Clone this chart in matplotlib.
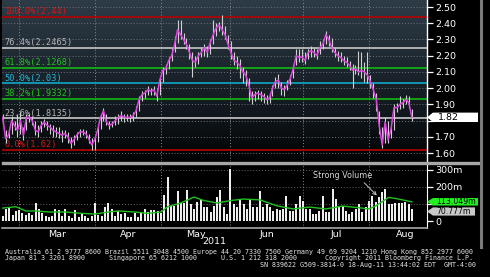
import matplotlib
matplotlib.use('Agg')

from matplotlib import pyplot as plt
from matplotlib import transforms
from matplotlib.patches import Polygon
from matplotlib.lines import Line2D
import numpy as np

# closes, left to right (22-Feb-11 .. 18-Aug-11)
close = [1.82, 1.69, 1.71, 1.80, 1.77, 1.74, 1.80, 1.71, 1.82, 1.82,
         1.80, 1.74, 1.73, 1.77, 1.79, 1.77, 1.76, 1.74, 1.73, 1.72,
         1.71, 1.72, 1.70, 1.66, 1.68, 1.71, 1.73, 1.73, 1.72, 1.69,
         1.65, 1.68, 1.74, 1.82, 1.86, 1.79, 1.77, 1.78, 1.80, 1.82,
         1.83, 1.82, 1.82, 1.82, 1.83, 1.86, 1.93, 1.96, 1.97, 1.99,
         1.98, 1.99, 1.95, 2.05, 2.11, 2.12, 2.17, 2.20, 2.27, 2.36,
         2.33, 2.30, 2.27, 2.22, 2.17, 2.16, 2.20, 2.22, 2.25, 2.22,
         2.28, 2.33, 2.37, 2.39, 2.36, 2.33, 2.27, 2.22, 2.17, 2.16,
         2.14, 2.10, 2.08, 2.02, 1.94, 1.96, 1.97, 1.96, 1.95, 1.93,
         1.94, 2.00, 2.04, 2.05, 2.00, 1.99, 2.02, 2.06, 2.12, 2.20,
         2.19, 2.19, 2.17, 2.22, 2.23, 2.22, 2.20, 2.25, 2.27, 2.33,
         2.30, 2.25, 2.22, 2.20, 2.19, 2.17, 2.16, 2.14, 2.11, 2.12,
         2.10, 2.11, 2.10, 2.08, 2.04, 1.99, 1.93, 1.77, 1.65, 1.79,
         1.68, 1.75, 1.88, 1.88, 1.90, 1.91, 1.93, 1.91, 1.82]

high = [1.84, 1.74, 1.75, 1.83, 1.80, 1.84, 1.85, 1.76, 1.84, 1.84,
        1.83, 1.80, 1.77, 1.80, 1.81, 1.80, 1.78, 1.77, 1.76, 1.76,
        1.74, 1.74, 1.73, 1.70, 1.71, 1.73, 1.75, 1.75, 1.74, 1.72,
        1.69, 1.70, 1.76, 1.84, 1.88, 1.84, 1.80, 1.80, 1.83, 1.84,
        1.86, 1.84, 1.84, 1.84, 1.85, 1.89, 1.95, 1.98, 1.99, 2.01,
        2.00, 2.01, 2.00, 2.07, 2.13, 2.15, 2.19, 2.25, 2.32, 2.42,
        2.42, 2.34, 2.31, 2.27, 2.22, 2.20, 2.22, 2.25, 2.27, 2.26,
        2.30, 2.42, 2.40, 2.41, 2.45, 2.38, 2.33, 2.29, 2.22, 2.20,
        2.18, 2.13, 2.11, 2.06, 1.98, 1.98, 1.99, 1.98, 1.97, 1.96,
        1.97, 2.02, 2.07, 2.09, 2.04, 2.02, 2.05, 2.08, 2.14, 2.24,
        2.24, 2.24, 2.22, 2.24, 2.26, 2.25, 2.24, 2.29, 2.30, 2.35,
        2.33, 2.31, 2.25, 2.23, 2.22, 2.20, 2.19, 2.17, 2.15, 2.14,
        2.23, 2.22, 2.16, 2.22, 2.08, 2.03, 1.97, 1.86, 1.76, 1.82,
        1.80, 1.78, 1.90, 1.91, 1.95, 1.93, 1.96, 1.95, 1.87]

low = [1.78, 1.66, 1.69, 1.72, 1.74, 1.70, 1.72, 1.68, 1.74, 1.79,
       1.77, 1.71, 1.70, 1.73, 1.76, 1.74, 1.72, 1.70, 1.70, 1.69,
       1.67, 1.69, 1.66, 1.63, 1.65, 1.68, 1.70, 1.71, 1.69, 1.66,
       1.62, 1.62, 1.67, 1.75, 1.80, 1.77, 1.75, 1.76, 1.77, 1.78,
       1.80, 1.79, 1.80, 1.79, 1.80, 1.82, 1.86, 1.92, 1.94, 1.96,
       1.96, 1.96, 1.92, 1.96, 2.04, 2.09, 2.12, 2.17, 2.22, 2.28,
       2.30, 2.27, 2.24, 2.18, 2.07, 2.13, 2.15, 2.19, 2.20, 2.19,
       2.21, 2.27, 2.32, 2.35, 2.33, 2.30, 2.24, 2.18, 2.14, 2.12,
       2.06, 2.03, 2.01, 1.92, 1.90, 1.92, 1.93, 1.92, 1.91, 1.90,
       1.91, 1.95, 2.00, 2.00, 1.96, 1.95, 1.99, 2.02, 2.06, 2.14,
       2.16, 2.16, 2.15, 2.18, 2.19, 2.19, 2.18, 2.21, 2.24, 2.27,
       2.26, 2.22, 2.19, 2.17, 2.16, 2.14, 2.13, 2.11, 2.00, 2.09,
       2.08, 2.06, 2.04, 2.03, 2.00, 1.94, 1.86, 1.72, 1.63, 1.66,
       1.66, 1.69, 1.74, 1.85, 1.87, 1.88, 1.90, 1.88, 1.80]

# daily volume in millions, one per trading day
volume = [31, 70, 76, 35, 59, 65, 47, 35, 47, 35,
          106, 70, 47, 29, 24, 29, 70, 65, 29, 70,
          29, 18, 65, 24, 47, 29, 18, 29, 106, 35,
          29, 82, 106, 70, 29, 59, 41, 47, 24, 24,
          47, 24, 47, 70, 53, 65, 65, 59, 47, 153,
          259, 88, 88, 176, 106, 106, 182, 100, 70, 112,
          129, 82, 82, 53, 88, 141, 182, 82, 41, 306,
          100, 82, 129, 100, 70, 129, 82, 82, 176, 82,
          100, 82, 59, 70, 65, 70, 147, 59, 59, 100,
          147, 118, 70, 70, 41, 41, 59, 147, 53, 53,
          188, 129, 88, 88, 59, 41, 53, 70, 100, 53,
          82, 118, 147, 112, 141, 170, 188, 100, 100, 106,
          106, 106, 112, 100, 70]

# volume moving average (green line), read at a few days
ma_day = [0, 4, 7, 10, 14, 19, 24, 28, 32, 35, 40, 44, 48, 50, 54, 58,
          61, 65, 69, 73, 78, 83, 88, 93, 98, 103, 109, 111, 113, 117, 120, 124]
ma_vol = [76, 84, 59, 59, 53, 53, 45, 41, 53, 59, 53, 45, 53, 84, 106, 141,
          120, 106, 120, 129, 124, 90, 71, 82, 71, 88, 76, 71, 88, 139, 129, 113]

months = ['Mar', 'Apr', 'May', 'Jun', 'Jul', 'Aug']
month_start = [5, 28, 48, 69, 91, 111]
month_end = [28, 48, 69, 91, 111, 133]

fib_pct = ['100.0%', '76.4%', '61.8%', '50.0%', '38.2%', '23.6%', '0.0%']
fib_val = [2.44, 2.2465, 2.1268, 2.03, 1.9332, 1.8135, 1.62]
fib_line = ['#b80000', '#c8c8c8', '#12b812', '#10a8c8', '#12b812', '#c8c8c8', '#b80000']
fib_text = ['#d01818', '#b4b4b4', '#22c022', '#22b8d8', '#22c022', '#b4b4b4', '#d01818']

price_ticks = [1.60, 1.70, 1.80, 1.90, 2.00, 2.10, 2.20, 2.30, 2.40, 2.50]
vol_ticks = [0, 100, 200, 300]
vol_labels = ['0', '', '200m', '300m']   # 100m sits under the MA label box
last_price = 1.82
vol_ma_last = 113.049
vol_last = 70.777

footer = ['Australia 61 2 9777 8600 Brazil 5511 3048 4500 Europe 44 20 7330 7500 '
          'Germany 49 69 9204 1210 Hong Kong 852 2977 6000',
          'Japan 81 3 3201 8900      Singapore 65 6212 1000      U.S. 1 212 318 2000'
          '       Copyright 2011 Bloomberg Finance L.P.',
          'SN 839622 G509-3814-0 18-Aug-11 13:44:02 EDT  GMT-4:00']

W, H = 490.0, 277.0
fig = plt.figure(figsize=(4.9, 2.77), dpi=100, facecolor='black')

def fx(px):
    return px / W

def fy(py):
    return 1 - py / H

ax = fig.add_axes([fx(2), fy(161), fx(425), 161 / H])
axv = fig.add_axes([fx(2), fy(228), fx(425), (228 - 164) / H])

ndays = len(volume)
xc = np.linspace(0, ndays - 1, len(close))
xlim = (-0.2, 128.6)

# ---- price panel ----
ax.set_facecolor('black')
ax.set_xlim(*xlim)
ax.set_ylim(1.5507, 2.5432)
grad_rows = np.linspace(0, 1, 200)
r = np.interp(grad_rows, [0, 0.72, 1], [46, 16, 2])
g = np.interp(grad_rows, [0, 0.72, 1], [60, 22, 3])
b = np.interp(grad_rows, [0, 0.72, 1], [72, 27, 4])
grad = np.stack([r, g, b], axis=1)[:, None, :] / 255.0
ax.imshow(grad, extent=[xlim[0], xlim[1], 1.5507, 2.5432], aspect='auto',
          origin='upper', zorder=0)

for v in price_ticks:
    ax.axhline(v, color='#6a747c', lw=0.7, ls=(0, (1, 2)), zorder=1)
for m in month_start:
    ax.axvline(m, color='#8a8a8a', lw=0.7, ls=(0, (1, 2)), zorder=1)

trans = transforms.blended_transform_factory(ax.transAxes, ax.transData)
for pct, val, lc, tc in zip(fib_pct, fib_val, fib_line, fib_text):
    ax.axhline(val, color=lc, lw=1.2, zorder=2)
    ax.text(0.006, val + 0.004, '%s(%s)' % (pct, val), color=tc, transform=trans,
            fontsize=6.2, family='DejaVu Sans Mono', va='bottom', ha='left', zorder=3)

ax.vlines(xc, low, high, color='#d0d0d0', lw=0.8, zorder=4)
ax.plot(xc, close, color='#dd44dd', lw=1.1, zorder=5)

ax.yaxis.tick_right()
ax.set_yticks(price_ticks)
ax.set_yticklabels(['%.2f' % t if t != 1.80 else '' for t in price_ticks])
ax.set_xticks([])
ax.tick_params(axis='y', colors='white', labelsize=6.8, length=4, width=0.9, pad=2)
for s in ['top', 'left', 'bottom']:
    ax.spines[s].set_visible(False)
ax.spines['right'].set_color('white')
ax.spines['right'].set_linewidth(1.0)

hp = 0.029
ax.add_patch(Polygon([(1.0, last_price), (1.014, last_price + hp), (1.12, last_price + hp),
                      (1.12, last_price - hp), (1.014, last_price - hp)],
                     closed=True, transform=trans, facecolor='white', edgecolor='none',
                     clip_on=False, zorder=10))
ax.text(1.025, last_price, '%.2f' % last_price, transform=trans, color='black',
        fontsize=6.8, va='center', ha='left', zorder=11, clip_on=False)

# ---- volume panel ----
axv.set_facecolor('black')
axv.set_xlim(*xlim)
axv.set_ylim(-41, 335)
for v in vol_ticks[1:]:
    axv.axhline(v, color='#6a6a6a', lw=0.7, ls=(0, (1, 2)), zorder=1)
for m in month_start:
    axv.axvline(m, color='#8a8a8a', lw=0.7, ls=(0, (1, 2)), zorder=1)
axv.bar(np.arange(ndays), volume, width=0.6, color='#eeeeee', zorder=3)
axv.plot(ma_day, ma_vol, color='#1fc01f', lw=1.0, zorder=4)

axv.yaxis.tick_right()
axv.set_yticks(vol_ticks)
axv.set_yticklabels(vol_labels)
axv.tick_params(axis='y', colors='white', labelsize=6.8, length=4, width=0.9, pad=2)
axv.set_xticks([(a + b) / 2.0 for a, b in zip(month_start, month_end)])
axv.set_xticklabels(months)
axv.tick_params(axis='x', colors='white', labelsize=6.8, length=0, pad=1.5)
for s in ['top', 'left']:
    axv.spines[s].set_visible(False)
axv.spines['right'].set_color('white')
axv.spines['bottom'].set_color('#a8a8a8')
axv.spines['bottom'].set_linewidth(1.2)

tv = transforms.blended_transform_factory(axv.transAxes, axv.transData)
axv.add_patch(Polygon([(1.0, vol_ma_last), (1.014, vol_ma_last + 22), (1.12, vol_ma_last + 22),
                       (1.12, vol_ma_last - 22), (1.014, vol_ma_last - 22)],
                      closed=True, transform=tv, facecolor='#22ee22', edgecolor='none',
                      clip_on=False, zorder=10))
axv.text(1.022, vol_ma_last, '%.3fm' % vol_ma_last, transform=tv, color='black',
         fontsize=5.6, va='center', ha='left', zorder=11, clip_on=False)
gy = 56
axv.add_patch(Polygon([(1.0, gy), (1.014, gy + 24), (1.113, gy + 24),
                       (1.113, gy - 24), (1.014, gy - 24)],
                      closed=True, transform=tv, facecolor='#c8c8c8', edgecolor='none',
                      clip_on=False, zorder=12))
axv.text(1.022, gy, '%.3fm' % vol_last, transform=tv, color='black',
         fontsize=5.6, va='center', ha='left', zorder=13, clip_on=False)

axv.annotate('Strong Volume', xy=(113.4, 150), xytext=(94, 268), color='#d8d8d8',
             fontsize=5.8, ha='left', va='center', zorder=8,
             arrowprops=dict(arrowstyle='->', color='#c0c0c0', lw=0.7,
                             shrinkA=0, shrinkB=0, relpos=(0.82, 0.0)))

# ---- frame pieces ----
fig.add_artist(Line2D([fx(3), fx(480)], [fy(162.5), fy(162.5)], color='#a8a8a8', lw=2.4))
fig.add_artist(Line2D([fx(481), fx(481)], [fy(0), fy(247)], color='#7a7a7a', lw=2.2))

fig.text(fx(214), fy(242), '2011', color='white', fontsize=6.8, ha='center', va='center')

foot_font = dict(color='#e6e6e6', fontsize=4.8, family='DejaVu Sans Mono', va='center')
fig.text(fx(5), fy(251.7), footer[0], ha='left', **foot_font)
fig.text(fx(5), fy(258.4), footer[1], ha='left', **foot_font)
fig.text(fx(476), fy(265), footer[2], ha='right', **foot_font)

plt.savefig('out.png', dpi=100, facecolor='black')
